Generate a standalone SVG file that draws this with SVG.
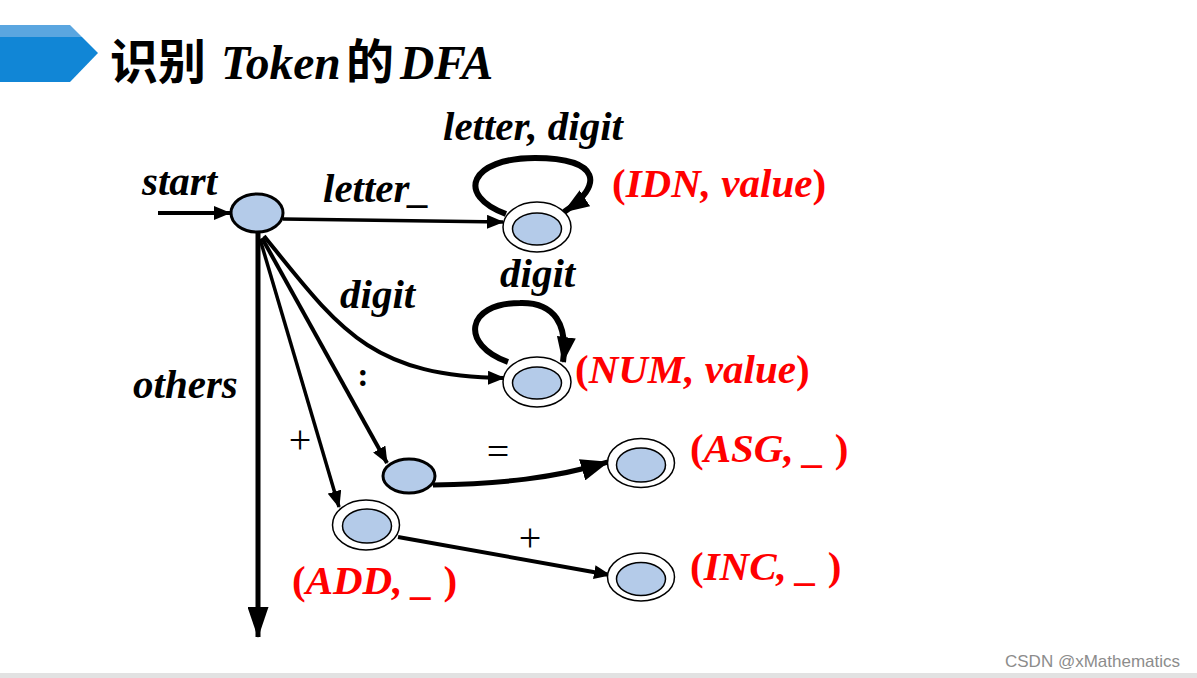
<svg xmlns="http://www.w3.org/2000/svg" width="1197" height="678" viewBox="0 0 1197 678">
<style>
.st{fill:#b4cbe9;stroke:#000;stroke-width:3}
.ac-o{fill:#fff;stroke:#000;stroke-width:1.5}
.ac-i{fill:#b4cbe9;stroke:#000;stroke-width:1.5}
.e{fill:none;stroke:#000}
.lb{font-family:"Liberation Serif",serif;font-weight:bold;font-style:italic;font-size:41px;fill:#000}
.rd{font-family:"Liberation Serif",serif;font-weight:bold;font-size:41px;fill:#f00}
.it{font-style:italic}
.op{font-family:"Liberation Serif",serif;font-size:40px;fill:#000}
.title-cjk{font-family:"Noto Sans CJK SC",sans-serif;font-weight:bold;font-size:48px;fill:#000}
.title-lat{font-family:"Liberation Serif",serif;font-weight:bold;font-style:italic;font-size:47.5px;fill:#000}
</style>
<defs>
<marker id="as" viewBox="0 0 17 14" refX="16" refY="7" markerWidth="17" markerHeight="14" markerUnits="userSpaceOnUse" orient="auto"><path d="M0,0 L17,7 L0,14 z"/></marker>
<marker id="al" viewBox="0 0 26 19" refX="25" refY="9.5" markerWidth="26" markerHeight="19" markerUnits="userSpaceOnUse" orient="auto"><path d="M0,0 L26,9.5 L0,19 z"/></marker>
<marker id="ab" viewBox="0 0 31 21" refX="30" refY="10.5" markerWidth="31" markerHeight="21" markerUnits="userSpaceOnUse" orient="auto"><path d="M0,0 L31,10.5 L0,21 z"/></marker>
<marker id="aq" viewBox="0 0 28 22" refX="27" refY="11" markerWidth="28" markerHeight="22" markerUnits="userSpaceOnUse" orient="auto"><path d="M0,0 L28,11 L0,22 z"/></marker>
</defs>
<rect width="1197" height="678" fill="#fff"/>
<g id="header">
<polygon points="0,25 70,25 82,37 0,37" fill="#5aa6e0"/>
<polygon points="0,37 82,37 98,53 70,82 0,82" fill="#1186d6"/>
<text y="79"><tspan class="title-cjk" x="110">识别</tspan><tspan class="title-lat" x="221">Token</tspan><tspan class="title-cjk" x="346">的</tspan><tspan class="title-lat" x="400">DFA</tspan></text>
</g>
<g id="connectors">
<path class="e" d="M158,213 L230,213" stroke-width="4" marker-end="url(#as)"/>
<path class="e" d="M283,219 L503,222" stroke-width="3.5" marker-end="url(#as)"/>
<path class="e" d="M506,214 C455,195 470,158 535,158 C600,158 605,185 564,212" stroke-width="6" marker-end="url(#al)"/>
<path class="e" d="M508,362 C460,345 465,303 520,303 C555,302 568,325 563,362" stroke-width="6" marker-end="url(#al)"/>
<path class="e" d="M264,236 C340,330 370,376 504,378" stroke-width="4" marker-end="url(#as)"/>
<path class="e" d="M262,238 L387,463" stroke-width="4" marker-end="url(#as)"/>
<path class="e" d="M260,239 L339,507" stroke-width="3.5" marker-end="url(#as)"/>
<path class="e" d="M258,232 L258,637" stroke-width="5" marker-end="url(#ab)"/>
<path class="e" d="M433,485 C500,484 555,478 608,462" stroke-width="5" marker-end="url(#aq)"/>
<path class="e" d="M398,537 L610,575" stroke-width="4" marker-end="url(#as)"/>
</g>
<g id="node-start"><ellipse class="st" cx="257" cy="213" rx="26" ry="19"/></g>
<g id="node-idn"><ellipse class="ac-o" cx="537" cy="227" rx="34" ry="25"/><ellipse class="ac-i" cx="537" cy="229" rx="24.5" ry="16"/></g>
<g id="node-num"><ellipse class="ac-o" cx="537" cy="382" rx="34" ry="25"/><ellipse class="ac-i" cx="537" cy="383" rx="24.5" ry="16"/></g>
<g id="node-colon"><ellipse class="st" cx="409" cy="476" rx="26" ry="17"/></g>
<g id="node-asg"><ellipse class="ac-o" cx="641" cy="463" rx="33.5" ry="24.5"/><ellipse class="ac-i" cx="641" cy="465" rx="24.5" ry="17"/></g>
<g id="node-add"><ellipse class="ac-o" cx="366" cy="525" rx="33.5" ry="25"/><ellipse class="ac-i" cx="367" cy="526" rx="24.5" ry="17"/></g>
<g id="node-inc"><ellipse class="ac-o" cx="641" cy="577" rx="33.5" ry="24"/><ellipse class="ac-i" cx="641" cy="579" rx="24.5" ry="16.5"/></g>
<g id="labels">
<text class="lb" x="142" y="195">start</text>
<text class="lb" x="323" y="202">letter_</text>
<text class="lb" x="443" y="140">letter, digit</text>
<text class="lb" x="500" y="287">digit</text>
<text class="lb" x="340" y="308">digit</text>
<text class="lb" x="133" y="398">others</text>
<text x="363" y="386" text-anchor="middle" font-family="Liberation Serif, serif" font-weight="bold" font-size="34">:</text>
<text class="op" x="300" y="453" text-anchor="middle">+</text>
<text class="op" x="498" y="465" text-anchor="middle">=</text>
<text class="op" x="530" y="551" text-anchor="middle">+</text>
<text class="rd" x="612" y="197">(<tspan class="it">IDN, value</tspan>)</text>
<text class="rd" x="575" y="383">(<tspan class="it">NUM, value</tspan>)</text>
<text class="rd" x="690" y="462">(<tspan class="it">ASG, _ </tspan>)</text>
<text class="rd" x="690" y="580">(<tspan class="it">INC, _ </tspan>)</text>
<text class="rd" x="292" y="594">(<tspan class="it">ADD, _ </tspan>)</text>
</g>
<g id="footer">
<rect x="0" y="673" width="1197" height="5" fill="#e2e2e2"/>
<text x="1005" y="667" font-family="Liberation Sans, sans-serif" font-size="17" fill="#8c8c8c">CSDN @xMathematics</text>
</g>
</svg>
